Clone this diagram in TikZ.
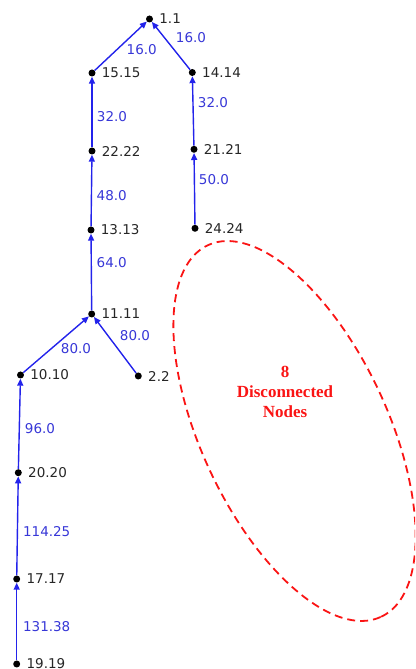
\documentclass[tikz,border=0pt]{standalone}
\usepackage{fontspec}
\setmainfont{DejaVu Sans}
\newfontfamily\serifbold{Liberation Serif}
\usetikzlibrary{arrows.meta}
\definecolor{edgeblue}{RGB}{35,35,235}
\definecolor{wblue}{RGB}{55,55,215}
\definecolor{dred}{RGB}{250,20,20}
\begin{document}
\begin{tikzpicture}[x=1pt,y=1pt,
 vtx/.style={circle,fill=black,inner sep=0pt,minimum size=7pt},
 vlab/.style={font=\fontsize{13.5}{16}\selectfont,text=black!85,inner sep=0pt},
 wlab/.style={font=\fontsize{13.5}{16}\selectfont,text=wblue,inner sep=0pt},
 edge/.style={draw=edgeblue,line width=1.4pt,-{Triangle[length=7pt,width=6pt]}}]
\clip (0,0) rectangle (415,669);
\useasboundingbox (0,0) rectangle (415,669);
\tikzset{lab/.style={label={[vlab,label distance=6pt]right:#1}}}
\node[vtx,lab=1.1] (n1) at (149.5,650) {};
\node[vtx,lab=15.15] (n15) at (92,596) {};
\node[vtx,lab=14.14] (n14) at (192.3,596.5) {};
\node[vtx,lab=22.22] (n22) at (92,518) {};
\node[vtx,lab=21.21] (n21) at (194,519.7) {};
\node[vtx,lab=13.13] (n13) at (91,439) {};
\node[vtx,lab=24.24] (n24) at (195,440.7) {};
\node[vtx,lab=11.11] (n11) at (91.7,355) {};
\node[vtx,lab=10.10] (n10) at (20.5,294) {};
\node[vtx,lab=2.2] (n2) at (138.3,293) {};
\node[vtx,lab=20.20] (n20) at (18.3,196.3) {};
\node[vtx,lab=17.17] (n17) at (16.7,90) {};
\node[vtx,lab=19.19] (n19) at (16.7,5) {};
\draw[edge] (n15) -- (n1);
\draw[edge] (n14) -- (n1);
\draw[edge] (n22) -- (n15);
\draw[edge] (n21) -- (n14);
\draw[edge] (n13) -- (n22);
\draw[edge] (n24) -- (n21);
\draw[edge] (n11) -- (n13);
\draw[edge] (n10) -- (n11);
\draw[edge] (n2) -- (n11);
\draw[edge] (n20) -- (n10);
\draw[edge] (n17) -- (n20);
\draw[edge] (n19) -- (n17);
\node[wlab] (l1) at (141.7,619) {16.0};
\node[wlab] (l2) at (191,631) {16.0};
\node[wlab] (l3) at (112,552.3) {32.0};
\node[wlab] (l4) at (213,566) {32.0};
\node[wlab] (l5) at (111.7,473.3) {48.0};
\node[wlab] (l6) at (214,489) {50.0};
\node[wlab] (l7) at (111.7,406.3) {64.0};
\node[wlab] (l8) at (76,320) {80.0};
\node[wlab] (l9) at (135,333) {80.0};
\node[wlab] (l10) at (40,240) {96.0};
\node[wlab] (l11) at (46.7,137.3) {114.25};
\node[wlab] (l12) at (46.7,42) {131.38};
\draw[dred,line width=1.8pt,dash pattern=on 8pt off 5pt] (294.5,238) ellipse [x radius=205,y radius=93.4,rotate=-65];
\node[text=dred,font=\serifbold\bfseries\fontsize{17}{20}\selectfont,align=center,inner sep=0pt] (dis) at (285,277) {8\\Disconnected\\Nodes};
\end{tikzpicture}
\end{document}
